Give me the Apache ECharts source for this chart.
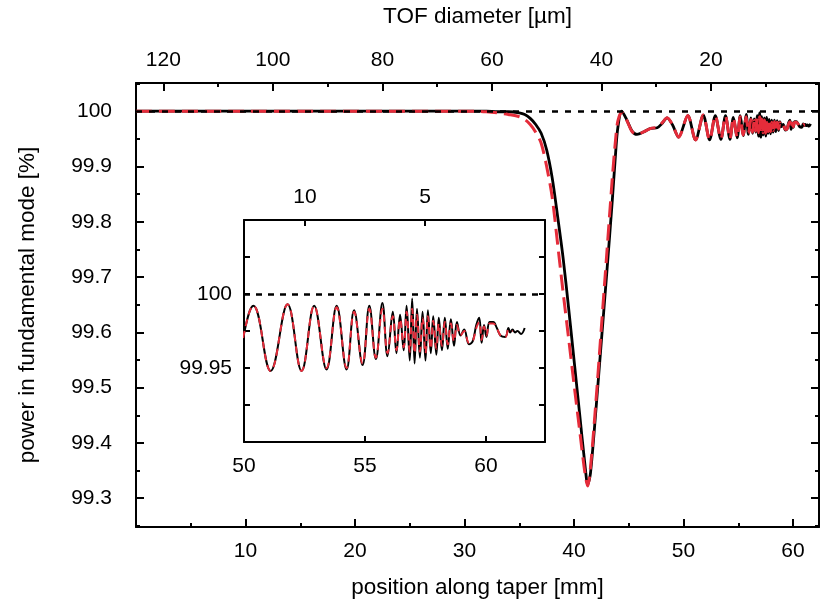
<!DOCTYPE html>
<html>
<head>
<meta charset="utf-8">
<script src="https://cdn.jsdelivr.net/npm/echarts@6/dist/echarts.min.js"></script>
<style>
html,body{margin:0;padding:0;background:#fff;}
#chart{width:822px;height:606px;}
</style>
</head>
<body>
<div id="chart"></div>
<script>
// position along taper [mm]
var position = [
  0, 10, 20, 30, 31, 32, 33, 34, 35, 35.5, 36, 36.5, 37, 37.5, 38, 38.5, 39, 39.5, 40, 40.5,
  41, 41.25, 41.5, 42, 42.5, 43, 43.5, 43.8, 44, 44.35, 44.8, 45.3, 45.75, 46.4, 47.0, 47.6,
  48.0, 48.5, 49.0, 49.55, 50.39, 51.1, 51.8, 52.38, 52.9, 53.41, 53.83, 54.24, 54.55, 54.9,
  55.18, 55.45, 55.72, 55.93, 56.15, 56.3, 56.45, 56.6, 56.72, 56.85, 56.95, 57.05, 57.15, 57.27,
  57.38, 57.5, 57.6, 57.72, 57.82, 57.95, 58.05, 58.18, 58.3, 58.42, 58.55, 58.68, 58.8, 58.95,
  59.1, 59.3, 59.45, 59.6, 59.72, 59.82, 59.92, 60.02, 60.15, 60.3, 60.45, 60.6, 60.8, 60.93,
  61.0, 61.1, 61.2, 61.3, 61.45, 61.6
];
// power in fundamental mode [%], solid black curve
var powerSolid = [
  100, 100, 100, 100, 100, 100, 99.999, 99.999, 99.997, 99.994, 99.987, 99.976, 99.96, 99.93, 99.88, 99.81, 99.735, 99.645, 99.55, 99.455,
  99.36, 99.325, 99.345, 99.46, 99.585, 99.71, 99.84, 99.925, 99.97, 100.0, 99.985, 99.964, 99.958, 99.963, 99.969, 99.970,
  99.977, 99.988, 99.975, 99.953, 99.992, 99.948, 99.993, 99.948, 99.992, 99.949, 99.992, 99.949, 99.989, 99.952,
  99.992, 99.956, 99.994, 99.958, 99.988, 99.960, 99.986, 99.962, 99.992, 99.955, 99.997, 99.953, 99.990, 99.957,
  99.988, 99.955, 99.989, 99.960, 99.985, 99.959, 99.984, 99.962, 99.984, 99.963, 99.983, 99.965, 99.981, 99.972,
  99.976, 99.966, 99.968, 99.979, 99.984, 99.967, 99.979, 99.971, 99.981, 99.981, 99.977, 99.972, 99.971, 99.977,
  99.974, 99.976, 99.974, 99.975, 99.973, 99.977
];
// power in fundamental mode [%], dashed red curve
var powerDashed = [
  100, 100, 100, 100, 100, 99.999, 99.997, 99.994, 99.99, 99.985, 99.976, 99.962, 99.942, 99.9, 99.845, 99.76, 99.673, 99.59, 99.506, 99.425,
  99.345, 99.322, 99.355, 99.475, 99.61, 99.745, 99.88, 99.95, 99.982, 99.998, 99.984, 99.963, 99.958, 99.963, 99.969, 99.971,
  99.978, 99.988, 99.975, 99.953, 99.992, 99.948, 99.993, 99.948, 99.992, 99.950, 99.991, 99.950, 99.988, 99.953,
  99.990, 99.957, 99.990, 99.960, 99.985, 99.962, 99.983, 99.964, 99.988, 99.961, 99.990, 99.960, 99.986, 99.961,
  99.984, 99.960, 99.985, 99.963, 99.982, 99.963, 99.980, 99.965, 99.981, 99.966, 99.980, 99.968, 99.979, 99.972,
  99.975, 99.967, 99.968, 99.977, 99.981, 99.969, 99.978, 99.972, 99.980, 99.980, 99.977, 99.972, 99.971, 99.976,
  99.975, 99.975
];
var referenceLevel = 100;
// axis ranges
var posRange = [0, 62.37];
var diamRange = [0.26, 125];
var powRange = [99.248, 100.051];
var insetPosRange = [50, 62.44];
var insetDiamRange = [0, 12.54];
var insetPowRange = [99.9, 100.05];
var insetPowLabels = [100, 99.95];

var FONT = 'Liberation Sans, Arial, Helvetica, sans-serif';
var solidData = position.map(function (x, i) { return [x, powerSolid[i]]; });
var dashedData = powerDashed.map(function (y, i) { return [position[i], y]; });

function near(a, b) { return Math.abs(a - b) < 1e-6; }

var lbl = { color: '#000', fontSize: 21, fontFamily: FONT };
function frameAxis(extra) {
  var base = {
    type: 'value',
    splitLine: { show: false },
    axisLine: { show: true, onZero: false, lineStyle: { color: '#000', width: 2 } },
    axisTick: { show: true, inside: true, length: 8, lineStyle: { color: '#000', width: 2 } },
    axisLabel: Object.assign({ margin: 12 }, lbl),
    nameTextStyle: { color: '#000', fontSize: 22.5, fontFamily: FONT }
  };
  for (var k in extra) {
    if (typeof extra[k] === 'object' && base[k] && !Array.isArray(extra[k])) {
      base[k] = Object.assign({}, base[k], extra[k]);
    } else base[k] = extra[k];
  }
  return base;
}

var chart = echarts.init(document.getElementById('chart'), null, { renderer: 'canvas' });
var option = {
  animation: false,
  backgroundColor: '#fff',
  grid: [
    { left: 136, top: 81, width: 689, height: 446 },
    { left: 244, top: 220, width: 301, height: 222 }
  ],
  xAxis: [
    frameAxis({
      gridIndex: 0, position: 'bottom', min: posRange[0], max: posRange[1], interval: 10,
      minorTick: { show: true, splitNumber: 2, length: 4, lineStyle: { color: '#000', width: 2 } },
      axisLabel: { margin: 14, formatter: function (v) { return (v > 0.5 && near(v % 10, 0)) ? String(Math.round(v)) : ''; } },
      name: 'position along taper [mm]', nameLocation: 'middle', nameGap: 49
    }),
    frameAxis({
      gridIndex: 0, position: 'top', inverse: true, min: diamRange[0], max: diamRange[1], splitNumber: 6,
      minorTick: { show: true, splitNumber: 2, length: 4, lineStyle: { color: '#000', width: 2 } },
      axisLabel: { margin: 12, formatter: function (v) { return (v > 1 && v < 124 && near(v % 20, 0)) ? String(Math.round(v)) : ''; } },
      name: 'TOF diameter [µm]', nameLocation: 'middle', nameGap: 55
    }),
    frameAxis({
      gridIndex: 1, position: 'bottom', min: insetPosRange[0], max: insetPosRange[1], interval: 5,
      axisTick: { length: 6 },
      axisLabel: { margin: 14, formatter: function (v) { return near(v % 5, 0) ? String(Math.round(v)) : ''; } }
    }),
    frameAxis({
      gridIndex: 1, position: 'top', inverse: true, min: insetDiamRange[0], max: insetDiamRange[1], interval: 5,
      axisTick: { length: 6 },
      axisLabel: { margin: 12, formatter: function (v) { return (v > 1 && near(v % 5, 0)) ? String(Math.round(v)) : ''; } }
    })
  ],
  yAxis: [
    frameAxis({
      gridIndex: 0, position: 'left', min: powRange[0], max: powRange[1], splitNumber: 8,
      minorTick: { show: true, splitNumber: 2, length: 4, lineStyle: { color: '#000', width: 2 } },
      axisLabel: { margin: 24, showMinLabel: false, showMaxLabel: false,
        formatter: function (v) { if (v < 99.27 || v > 100.03) return ''; return near(v, 100) ? '100' : v.toFixed(1); } },
      name: 'power in fundamental mode [%]', nameLocation: 'middle', nameGap: 97, nameRotate: 90
    }),
    frameAxis({
      gridIndex: 0, position: 'right', min: powRange[0], max: powRange[1], splitNumber: 8,
      minorTick: { show: true, splitNumber: 2, length: 4, lineStyle: { color: '#000', width: 2 } },
      axisLabel: { show: false }
    }),
    frameAxis({
      gridIndex: 1, position: 'left', min: insetPowRange[0], max: insetPowRange[1], interval: 0.025,
      axisTick: { length: 6 },
      axisLabel: { margin: 12, formatter: function (v) {
        for (var i = 0; i < insetPowLabels.length; i++) { if (near(v, insetPowLabels[i])) return near(v, 100) ? '100' : String(insetPowLabels[i]); }
        return ''; } }
    }),
    frameAxis({
      gridIndex: 1, position: 'right', min: insetPowRange[0], max: insetPowRange[1], interval: 0.025,
      axisTick: { length: 6 },
      axisLabel: { show: false }
    })
  ],
  series: [
    {
      type: 'line', xAxisIndex: 0, yAxisIndex: 0, data: solidData, showSymbol: false, smooth: 0.3,
      lineStyle: { color: '#000', width: 2.8 }, z: 3,
      markLine: { silent: true, symbol: 'none', label: { show: false },
        lineStyle: { color: '#000', type: [6, 7], width: 2.5 }, data: [{ yAxis: referenceLevel }] }
    },
    {
      type: 'line', xAxisIndex: 0, yAxisIndex: 0, data: dashedData, showSymbol: false, smooth: 0.3,
      lineStyle: { color: '#e52c3a', width: 3, type: [16, 7] }, z: 4
    },
    {
      type: 'line', xAxisIndex: 2, yAxisIndex: 2, data: solidData, showSymbol: false, smooth: 0.4,
      lineStyle: { color: '#000', width: 2 }, z: 3,
      markLine: { silent: true, symbol: 'none', label: { show: false },
        lineStyle: { color: '#000', type: [6, 6], width: 2.5 }, data: [{ yAxis: referenceLevel }] }
    },
    {
      type: 'line', xAxisIndex: 2, yAxisIndex: 2, data: dashedData, showSymbol: false, smooth: 0.4,
      lineStyle: { color: '#e52c3a', width: 2, type: [7, 5] }, z: 4
    }
  ]
};
chart.setOption(option);
</script>
</body>
</html>
